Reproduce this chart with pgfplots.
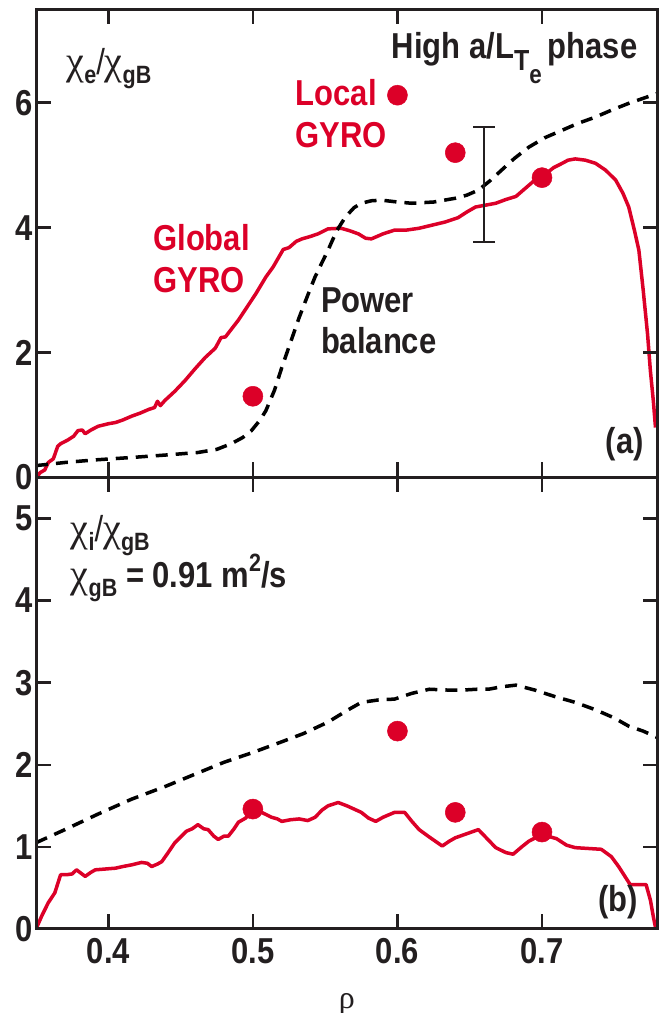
\documentclass[border=0pt]{standalone}
\usepackage{pgfplots}
\pgfplotsset{compat=1.18}
\usepackage{fontspec}
\setmainfont{Liberation Sans}[FakeStretch=0.86]
\newfontfamily\grk{Liberation Serif}
\definecolor{gred}{RGB}{220,0,40}
\definecolor{tblack}{RGB}{35,31,32}
\newcommand{\lab}{\fontsize{36}{42}\selectfont\bfseries}
\newcommand{\sub}[1]{\raisebox{-0.25em}{\fontsize{25}{25}\selectfont\bfseries #1}}
\newcommand{\chisym}{{\fontsize{40}{40}\selectfont\grk\mdseries χ}}
\begin{document}
\begin{tikzpicture}
\useasboundingbox (-36pt,-535pt) rectangle (622pt,477pt);
\begin{axis}[name=top, at={(0pt,0pt)}, anchor=south west, scale only axis, width=621pt, height=468pt,
  axis on top,
  xmin=0.35, xmax=0.78, xtick={0.4,0.5,0.6,0.7}, xticklabels={},
  ymin=0, ymax=7.5, ytick={0,2,4,6}, yticklabels={0,2,4,6},
  tick align=inside, major tick length=15pt,
  xtick style={line width=2.5pt, draw=tblack},
  ytick style={line width=2.5pt, draw=tblack},
  axis line style={line width=3pt, tblack},
  tick label style={font=\lab, text=tblack}]
\addplot[gred, line width=3.5pt, line join=round] coordinates {(0.350,0.00)(0.353,0.08)(0.356,0.12)(0.3585,0.24)(0.362,0.30)(0.365,0.50)(0.367,0.54)(0.372,0.60)(0.376,0.66)(0.379,0.75)(0.382,0.76)(0.384,0.70)(0.388,0.76)(0.393,0.82)(0.400,0.86)(0.405,0.88)(0.410,0.92)(0.416,0.98)(0.422,1.03)(0.428,1.09)(0.432,1.12)(0.434,1.22)(0.436,1.15)(0.439,1.23)(0.446,1.38)(0.453,1.55)(0.460,1.74)(0.467,1.92)(0.474,2.07)(0.478,2.24)(0.481,2.25)(0.486,2.40)(0.490,2.52)(0.496,2.73)(0.502,2.94)(0.509,3.21)(0.514,3.37)(0.518,3.53)(0.521,3.65)(0.525,3.68)(0.530,3.78)(0.534,3.82)(0.540,3.86)(0.545,3.90)(0.552,3.98)(0.561,3.99)(0.567,3.95)(0.573,3.90)(0.578,3.83)(0.582,3.82)(0.590,3.90)(0.598,3.96)(0.606,3.96)(0.615,3.99)(0.624,4.04)(0.633,4.09)(0.642,4.16)(0.648,4.25)(0.654,4.33)(0.661,4.36)(0.668,4.39)(0.675,4.45)(0.682,4.50)(0.688,4.62)(0.695,4.76)(0.702,4.85)(0.708,4.96)(0.714,5.03)(0.718,5.08)(0.723,5.10)(0.730,5.08)(0.737,5.03)(0.744,4.92)(0.751,4.76)(0.756,4.55)(0.760,4.33)(0.764,3.95)(0.767,3.64)(0.770,3.00)(0.773,2.30)(0.775,1.70)(0.777,1.23)(0.7785,0.80)};
\addplot[black, line width=3.5pt, dash pattern=on 12pt off 8pt] coordinates {(0.350,0.19)(0.370,0.24)(0.390,0.28)(0.416,0.32)(0.440,0.36)(0.462,0.40)(0.475,0.45)(0.485,0.54)(0.493,0.64)(0.499,0.75)(0.505,0.92)(0.509,1.07)(0.515,1.40)(0.520,1.76)(0.526,2.16)(0.532,2.56)(0.538,2.92)(0.543,3.21)(0.548,3.45)(0.552,3.64)(0.558,3.95)(0.564,4.17)(0.570,4.32)(0.575,4.39)(0.582,4.43)(0.589,4.44)(0.600,4.41)(0.610,4.39)(0.625,4.41)(0.640,4.47)(0.648,4.52)(0.656,4.60)(0.664,4.75)(0.672,4.92)(0.681,5.11)(0.691,5.29)(0.702,5.44)(0.714,5.56)(0.725,5.67)(0.737,5.77)(0.748,5.88)(0.760,5.99)(0.770,6.07)(0.780,6.15)};
\addplot[only marks, mark=*, mark size=10pt, gred, mark options={draw=gred, fill=gred, line width=0.5pt}] coordinates {(0.5,1.3)(0.6,6.12)(0.64,5.2)(0.7,4.8)};
\addplot[tblack, mark=none, error bars/.cd, y dir=both, y explicit,
  error bar style={line width=2.5pt, tblack},
  error mark options={rotate=90, mark size=11pt, line width=2.5pt, tblack}]
  coordinates {(0.66,4.69) +- (0,0.92)};
\node[anchor=base west, inner sep=0, text=tblack, font=\lab] at (axis cs:0.371,6.45) {\chisym\sub{e}{\mdseries/}\chisym\sub{gB}};
\node[anchor=base west, inner sep=0, text=tblack, font=\lab] at (axis cs:0.596,6.71) {High a/L\raisebox{-0.33em}{\fontsize{29}{29}\selectfont T\raisebox{-0.45em}{\fontsize{26}{26}\selectfont e}}\,phase};
\node[anchor=base west, inner sep=0, text=gred, font=\lab] at (axis cs:0.5295,5.95) {Local};
\node[anchor=base west, inner sep=0, text=gred, font=\lab] at (axis cs:0.5295,5.29) {GYRO};
\node[anchor=base west, inner sep=0, text=gred, font=\lab] at (axis cs:0.431,3.64) {Global};
\node[anchor=base west, inner sep=0, text=gred, font=\lab] at (axis cs:0.431,2.96) {GYRO};
\node[anchor=base west, inner sep=0, text=tblack, font=\lab] at (axis cs:0.547,2.64) {Power};
\node[anchor=base west, inner sep=0, text=tblack, font=\lab] at (axis cs:0.547,1.99) {balance};
\node[anchor=base west, inner sep=0, text=tblack, font=\lab] at (axis cs:0.744,0.38) {(a)};
\end{axis}
\begin{axis}[name=bot, at={(0pt,0pt)}, anchor=north west, scale only axis, width=621pt, height=451pt,
  axis on top,
  xmin=0.35, xmax=0.78, xtick={0.4,0.5,0.6,0.7}, xticklabels={0.4,0.5,0.6,0.7},
  ymin=0, ymax=5.5, ytick={0,1,2,3,4,5}, yticklabels={0,1,2,3,4,5},
  tick align=inside, major tick length=15pt,
  xtick style={line width=2.5pt, draw=tblack},
  ytick style={line width=2.5pt, draw=tblack},
  axis line style={line width=3pt, tblack},
  tick label style={font=\lab, text=tblack},
  xticklabel style={yshift=-6pt},
  xlabel={\grk\mdseries ρ}, xlabel style={font=\fontsize{32}{32}\selectfont, text=tblack, yshift=-23pt}]
\addplot[gred, line width=3.5pt, line join=round] coordinates {(0.350,0.00)(0.354,0.16)(0.3585,0.32)(0.363,0.44)(0.365,0.55)(0.367,0.66)(0.371,0.66)(0.375,0.67)(0.378,0.72)(0.381,0.68)(0.384,0.64)(0.388,0.69)(0.391,0.72)(0.398,0.73)(0.405,0.74)(0.410,0.76)(0.416,0.78)(0.423,0.81)(0.427,0.80)(0.430,0.76)(0.434,0.79)(0.437,0.82)(0.441,0.92)(0.446,1.05)(0.450,1.12)(0.454,1.19)(0.458,1.22)(0.462,1.27)(0.466,1.22)(0.469,1.21)(0.473,1.13)(0.476,1.09)(0.480,1.13)(0.483,1.13)(0.487,1.22)(0.490,1.30)(0.495,1.35)(0.500,1.46)(0.506,1.42)(0.513,1.36)(0.517,1.34)(0.520,1.31)(0.526,1.33)(0.532,1.34)(0.538,1.32)(0.543,1.36)(0.548,1.45)(0.552,1.50)(0.559,1.54)(0.565,1.50)(0.570,1.46)(0.575,1.42)(0.580,1.35)(0.585,1.31)(0.590,1.36)(0.598,1.42)(0.605,1.42)(0.610,1.31)(0.615,1.21)(0.622,1.12)(0.631,1.01)(0.636,1.07)(0.640,1.11)(0.648,1.16)(0.656,1.21)(0.662,1.10)(0.668,0.99)(0.675,0.93)(0.680,0.91)(0.686,1.00)(0.691,1.07)(0.700,1.15)(0.710,1.10)(0.717,1.02)(0.723,0.99)(0.732,0.98)(0.741,0.97)(0.748,0.88)(0.753,0.76)(0.757,0.65)(0.761,0.54)(0.767,0.54)(0.772,0.54)(0.775,0.35)(0.777,0.15)(0.7785,0.02)};
\addplot[black, line width=3.5pt, dash pattern=on 12pt off 8pt] coordinates {(0.350,1.05)(0.370,1.21)(0.393,1.40)(0.416,1.58)(0.440,1.74)(0.462,1.90)(0.480,2.03)(0.500,2.15)(0.520,2.28)(0.535,2.38)(0.552,2.52)(0.565,2.66)(0.575,2.76)(0.587,2.79)(0.598,2.80)(0.610,2.87)(0.622,2.92)(0.635,2.91)(0.645,2.91)(0.655,2.92)(0.663,2.92)(0.672,2.95)(0.682,2.97)(0.695,2.91)(0.709,2.83)(0.723,2.76)(0.737,2.67)(0.750,2.57)(0.760,2.47)(0.770,2.41)(0.780,2.33)};
\addplot[only marks, mark=*, mark size=10pt, gred, mark options={draw=gred, fill=gred, line width=0.5pt}] coordinates {(0.5,1.46)(0.6,2.41)(0.64,1.42)(0.7,1.18)};
\node[anchor=base west, inner sep=0, text=tblack, font=\lab] at (axis cs:0.374,4.72) {\chisym\sub{i}{\mdseries/}\chisym\sub{gB}};
\node[anchor=base west, inner sep=0, text=tblack, font=\lab] at (axis cs:0.374,4.16) {\chisym\sub{gB} = 0.91 m\raisebox{0.45em}{\fontsize{25}{25}\selectfont 2}/s};
\node[anchor=base west, inner sep=0, text=tblack, font=\lab] at (axis cs:0.739,0.21) {(b)};
\end{axis}
\end{tikzpicture}
\end{document}
